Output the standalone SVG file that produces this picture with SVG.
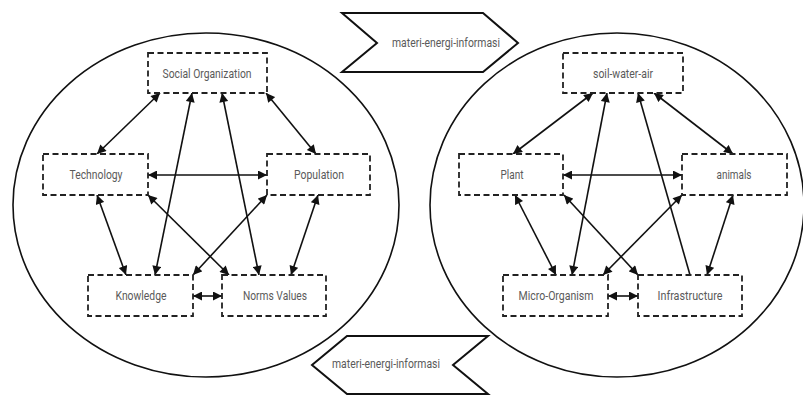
<svg xmlns="http://www.w3.org/2000/svg" width="803" height="396" viewBox="0 0 803 396">
<style>
.bg{fill:#fff}
.ell{fill:none;stroke:#111;stroke-width:1.6}
.chev{fill:#fff;stroke:#111;stroke-width:2}
.node{fill:#fff;stroke:#222;stroke-width:1.8;stroke-dasharray:6,3.5}
.lbl{font-family:Roboto,"Liberation Sans",sans-serif;font-size:13px;fill:#5a5a5a;text-anchor:middle}
.ln{stroke:#111;stroke-width:1.6;fill:none}
.dbl{marker-start:url(#ah);marker-end:url(#ah)}
.sgl{marker-end:url(#ah)}
</style>
<defs>
<marker id="ah" viewBox="0 0 10 10" refX="10" refY="5" markerWidth="10" markerHeight="9" markerUnits="userSpaceOnUse" orient="auto-start-reverse">
<path d="M0,0 L10,5 L0,10 z" fill="#111"/>
</marker>
</defs>
<rect class="bg" x="0" y="0" width="803" height="396"/>
<ellipse class="ell" cx="206" cy="205" rx="193" ry="172"/>
<ellipse class="ell" cx="617" cy="205" rx="187" ry="172"/>
<g id="flow-top">
<polygon class="chev" points="342,13 483,13 518,43 483,72 342,72 377,43"/>
<text class="lbl" x="446" y="47" textLength="108" lengthAdjust="spacingAndGlyphs">materi-energi-informasi</text>
</g>
<g id="flow-bottom">
<polygon class="chev" points="347,336 488,336 453,365 488,394 347,394 312,365"/>
<text class="lbl" x="386" y="368" textLength="108" lengthAdjust="spacingAndGlyphs">materi-energi-informasi</text>
</g>
<g id="connectors">
<line class="ln dbl" x1="160" y1="93" x2="97" y2="154"/>
<line class="ln dbl" x1="266" y1="93" x2="316" y2="154"/>
<line class="ln dbl" x1="148" y1="175" x2="267" y2="175"/>
<line class="ln dbl" x1="192" y1="93" x2="155" y2="275"/>
<line class="ln dbl" x1="222" y1="93" x2="259" y2="275"/>
<line class="ln dbl" x1="97" y1="195" x2="126" y2="275"/>
<line class="ln dbl" x1="318" y1="195" x2="291" y2="275"/>
<line class="ln dbl" x1="148" y1="195" x2="229" y2="275"/>
<line class="ln dbl" x1="267" y1="195" x2="193" y2="275"/>
<line class="ln dbl" x1="193" y1="296" x2="222" y2="296"/>
<line class="ln dbl" x1="593" y1="93" x2="513" y2="154"/>
<line class="ln dbl" x1="654" y1="93" x2="733" y2="154"/>
<line class="ln dbl" x1="563" y1="175" x2="682" y2="175"/>
<line class="ln dbl" x1="607" y1="93" x2="572" y2="275"/>
<line class="ln sgl" x1="690" y1="275" x2="638" y2="93"/>
<line class="ln dbl" x1="515" y1="195" x2="556" y2="275"/>
<line class="ln dbl" x1="733" y1="195" x2="707" y2="275"/>
<line class="ln dbl" x1="564" y1="195" x2="638" y2="275"/>
<line class="ln dbl" x1="682" y1="195" x2="603" y2="275"/>
<line class="ln dbl" x1="608" y1="296" x2="638" y2="296"/>
</g>
<g id="social-organization"><rect class="node" x="148" y="53" width="119" height="40"/><text class="lbl" x="207" y="78" textLength="89" lengthAdjust="spacingAndGlyphs">Social Organization</text></g>
<g id="technology"><rect class="node" x="43" y="154" width="105" height="41"/><text class="lbl" x="96" y="179" textLength="53" lengthAdjust="spacingAndGlyphs">Technology</text></g>
<g id="population"><rect class="node" x="267" y="154" width="103" height="41"/><text class="lbl" x="319" y="179" textLength="50" lengthAdjust="spacingAndGlyphs">Population</text></g>
<g id="knowledge"><rect class="node" x="88" y="275" width="105" height="41"/><text class="lbl" x="141" y="300" textLength="51" lengthAdjust="spacingAndGlyphs">Knowledge</text></g>
<g id="norms-values"><rect class="node" x="222" y="275" width="104" height="41"/><text class="lbl" x="275" y="300" textLength="64" lengthAdjust="spacingAndGlyphs">Norms Values</text></g>
<g id="soil-water-air"><rect class="node" x="563" y="53" width="120" height="40"/><text class="lbl" x="623" y="78" textLength="60" lengthAdjust="spacingAndGlyphs">soil-water-air</text></g>
<g id="plant"><rect class="node" x="459" y="154" width="104" height="41"/><text class="lbl" x="512" y="179" textLength="23" lengthAdjust="spacingAndGlyphs">Plant</text></g>
<g id="animals"><rect class="node" x="682" y="154" width="105" height="41"/><text class="lbl" x="734" y="179" textLength="35" lengthAdjust="spacingAndGlyphs">animals</text></g>
<g id="micro-organism"><rect class="node" x="503" y="275" width="105" height="41"/><text class="lbl" x="556" y="300" textLength="75" lengthAdjust="spacingAndGlyphs">Micro-Organism</text></g>
<g id="infrastructure"><rect class="node" x="638" y="275" width="104" height="41"/><text class="lbl" x="690" y="300" textLength="65" lengthAdjust="spacingAndGlyphs">Infrastructure</text></g>
</svg>
